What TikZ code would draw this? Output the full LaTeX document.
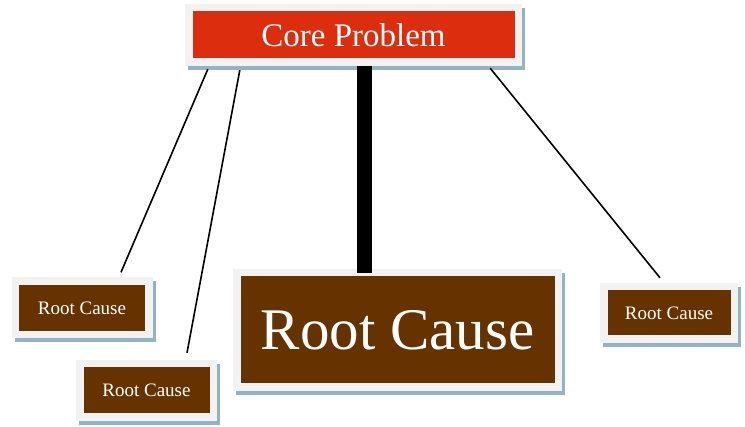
\documentclass[tikz,border=0pt]{standalone}
\usepackage{fontspec}
\setmainfont{Liberation Serif}
\usetikzlibrary{shadows}

\definecolor{coreRed}{HTML}{DC2D0F}
\definecolor{causeBrown}{HTML}{663300}
\definecolor{frameGray}{HTML}{F2F2F2}
\definecolor{shadowBlue}{HTML}{93B3C2}

\tikzset{
	framed/.style={rectangle, inner sep=0pt, fill=frameGray, text=white,
		drop shadow={shadow xshift=3pt, shadow yshift=-4pt, fill=shadowBlue, opacity=1},
		path picture={\fill[#1] ([shift={(7.5pt,-7.5pt)}]path picture bounding box.north west) rectangle ([shift={(-7.5pt,7.5pt)}]path picture bounding box.south east);}},
	causebox/.style={framed=causeBrown, minimum width=141pt, minimum height=61pt, font=\fontsize{19}{19}\selectfont},
	link/.style={line width=1.6pt},
}

\begin{document}
\begin{tikzpicture}[x=1pt, y=-1pt]
		\useasboundingbox (0,0) rectangle (745,427);

		\node[framed=coreRed, minimum width=337pt, minimum height=62pt, font=\fontsize{33}{33}\selectfont] (core) at (353.5,35) {Core Problem};

		\node[causebox] (cause1) at (82,308) {Root Cause};
		\node[causebox] (cause2) at (146.5,390.5) {Root Cause};
		\node[framed=causeBrown, minimum width=329pt, minimum height=122pt, font=\fontsize{59}{59}\selectfont] (cause3) at (397.5,330) {Root Cause};
		\node[causebox, minimum width=138pt, minimum height=60pt] (cause4) at (669,313) {Root Cause};

		\draw[link] ([xshift=23pt, yshift=-3pt]core.south west) -- ([xshift=39pt, yshift=5pt]cause1.north);
		\draw[link] ([xshift=55pt, yshift=-4pt]core.south west) -- ([xshift=40.5pt, yshift=7pt]cause2.north);
		\draw[line width=15pt] ([xshift=11pt]core.south) -- ([xshift=-33pt, yshift=-4pt]cause3.north);
		\draw[link] ([xshift=-32pt, yshift=-2pt]core.south east) -- ([xshift=-9pt, yshift=5pt]cause4.north);
	\end{tikzpicture}
\end{document}
